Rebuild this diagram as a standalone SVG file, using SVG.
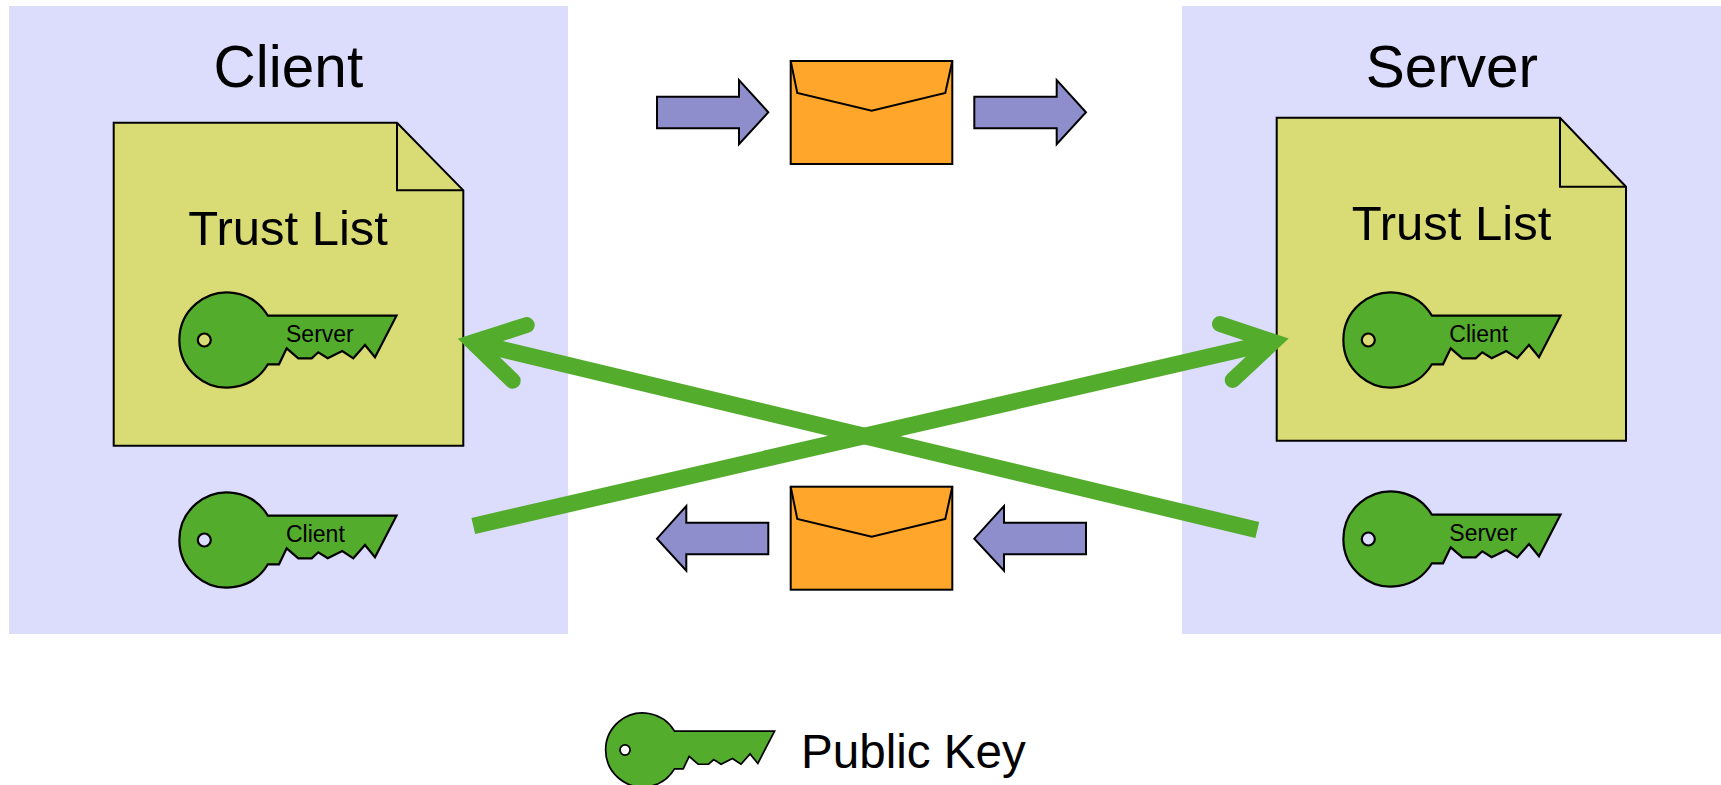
<svg xmlns="http://www.w3.org/2000/svg" width="1721" height="785" viewBox="0 0 1721 785">
<style>
text{font-family:"Liberation Sans",Arial,sans-serif;fill:#000}
.title{font-size:58.5px}
.list{font-size:49px}
.tag{font-size:23px}
.legend{font-size:47.6px}
.panel{fill:#dcdcfc}
.doc{fill:#d9db74;stroke:#000;stroke-width:2;stroke-linejoin:miter}
.fold{fill:none;stroke:#000;stroke-width:2}
.key{fill:#53ac2c;fill-rule:evenodd;stroke:#000;stroke-width:2.2;stroke-linejoin:miter}
.env{fill:#ffa62b;stroke:#000;stroke-width:2}
.flap{fill:none;stroke:#000;stroke-width:2}
.flow{fill:#8f8ecd;stroke:#000;stroke-width:2}
.wire{fill:none;stroke:#53ac2c;stroke-width:16.5;stroke-linecap:butt}
.barb{fill:none;stroke:#53ac2c;stroke-width:16;stroke-linecap:round;stroke-linejoin:miter}
</style>
<defs>
<path id="keyShape" class="key" d="M40.9,-24.3L169.5,-24.3L148,17.3L138,5L126.3,18.3L115.3,11L100.7,18.3L91.3,12.3L84.7,18.3L71.3,18.3L59.7,8.3L52,24.3L40.9,24.3A47.6,47.6 0 1 1 40.9,-24.3ZM-16.2,0A6.5,6.5 0 1 0 -29.2,0A6.5,6.5 0 1 0 -16.2,0Z"/>
</defs>
<g id="client-panel"><rect class="panel" x="9" y="6" width="559" height="628"/><text class="title" x="213.6" y="86.7">Client</text></g>
<g id="server-panel"><rect class="panel" x="1182" y="6" width="539" height="628"/><text class="title" x="1365.7" y="86.7">Server</text></g>
<g id="client-trust-list">
<path class="doc" d="M113.7,122.7H397L463.3,190.3V445.7H113.7Z"/>
<path class="fold" d="M397,122.7V190.3H463.3"/>
<text class="list" x="188.3" y="244.6">Trust List</text>
</g>
<g id="server-trust-list">
<path class="doc" d="M1276.7,117.7H1560L1626,186.7V440.7H1276.7Z"/>
<path class="fold" d="M1560,117.7V186.7H1626"/>
<text class="list" x="1351.7" y="240">Trust List</text>
</g>
<g id="client-trust-key"><use href="#keyShape" x="227" y="340"/><text class="tag" x="286" y="341.7">Server</text></g>
<g id="client-own-key"><use href="#keyShape" x="227" y="540"/><text class="tag" x="286" y="541.7">Client</text></g>
<g id="server-trust-key"><use href="#keyShape" x="1391" y="340"/><text class="tag" x="1449.3" y="341.7">Client</text></g>
<g id="server-own-key"><use href="#keyShape" x="1391" y="539"/><text class="tag" x="1449.3" y="540.5">Server</text></g>
<g id="top-left-arrow"><path class="flow" d="M657,96.7H739V80L768.3,112.3L739,144.3V128.3H657Z"/></g>
<g id="top-envelope"><rect class="env" x="790.7" y="61" width="161.6" height="103"/><path class="flap" d="M790.7,61L797.3,93L871.7,110.7L945.3,93L952.3,61"/></g>
<g id="top-right-arrow"><path class="flow" d="M974.3,96.7H1056.7V80L1086,112.3L1056.7,144.3V128.3H974.3Z"/></g>
<g id="bottom-left-arrow"><path class="flow" d="M768.3,522.7H686.3V506L657,538.7L686.3,570.7V554.3H768.3Z"/></g>
<g id="bottom-envelope"><rect class="env" x="790.7" y="486.7" width="161.6" height="103"/><path class="flap" d="M790.7,486.7L797.3,519L871.7,536.7L945.3,519L952.3,486.7"/></g>
<g id="bottom-right-arrow"><path class="flow" d="M1086,522.7H1004V506L974.3,538.7L1004,570.7V554.3H1086Z"/></g>
<g id="connectors">
<path class="wire" d="M1257.3,530L472.9,342.3"/>
<path class="barb" d="M526.7,325L472.9,342.3L512.7,380.7"/>
<path class="wire" d="M473.3,526L1273.4,341.9"/>
<path class="barb" d="M1220,324L1273.4,341.9L1232.7,380"/>
</g>
<g id="legend">
<use href="#keyShape" transform="translate(642.7,750) scale(.778)"/>
<text class="legend" x="801" y="767.7">Public Key</text>
</g>
</svg>
